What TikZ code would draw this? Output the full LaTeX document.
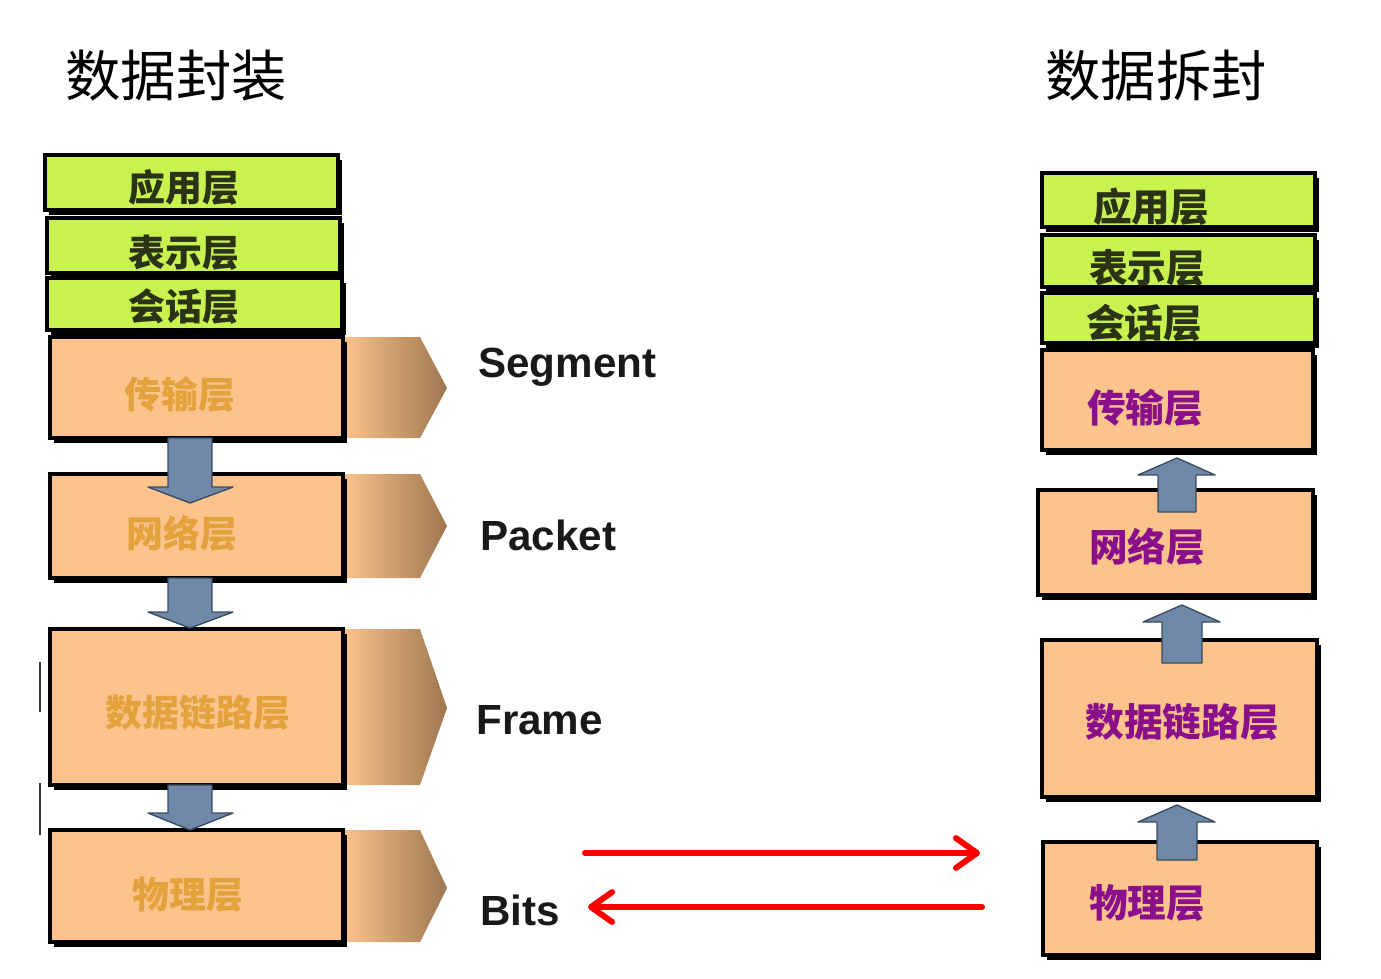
\documentclass[tikz,border=0pt]{standalone}
\usepackage{fontspec}
\setmainfont{Liberation Sans}
\newfontfamily\cjk{Noto Sans CJK SC}
\usetikzlibrary{arrows.meta,positioning,shadows}

\definecolor{lgreen}{HTML}{C8F250}
\definecolor{peach}{HTML}{FCC38D}
\definecolor{tabbrown}{HTML}{9E774F}
\definecolor{arrowblue}{HTML}{6F88A8}
\definecolor{arrowedge}{HTML}{3C4C60}
\definecolor{goldtext}{HTML}{E3A23C}
\definecolor{purpletext}{HTML}{8A0F8A}
\definecolor{olivetext}{HTML}{2B3316}
\def\pxu{0.02cm}

\begin{document}
\begin{tikzpicture}[x=0.02cm,y=-0.02cm,
  layer/.style={draw=black,line width=2pt,
    general shadow={fill=black,shadow xshift=2.5pt,shadow yshift=-3pt}},
  green/.style={layer,fill=lgreen},
  orange/.style={layer,fill=peach},
  tab/.style={left color=peach,middle color=peach!75!tabbrown,right color=tabbrown},
  barrow/.style={fill=arrowblue,draw=arrowedge,line width=0.8pt,line join=round},
  title/.style={font=\cjk\fontsize{31.5}{36}\selectfont,inner sep=0pt},
  lname/.style={font=\cjk\bfseries\fontsize{21}{24}\selectfont,inner sep=0pt},
  rname/.style={font=\cjk\bfseries\fontsize{22}{25}\selectfont,inner sep=0pt},
  unit/.style={font=\bfseries\fontsize{24}{28}\selectfont,text=black!90,inner sep=0pt,anchor=west},
  bitline/.style={red,line width=3.4pt,line cap=round,-{Straight Barb[length=12pt,width=17pt,round]}}]
\useasboundingbox (0,0) rectangle (1381,978);

% titles
\node[title] (enc) at (176,76) {数据封装};
\node[title] (dec) at (1156,76) {数据拆封};

% sender stack
\node[green,minimum width=293*\pxu,minimum height=55*\pxu] (la) at (191.5,182.5) {};
\node[green,minimum width=293*\pxu,minimum height=55*\pxu] (lp) at (193.5,245.5) {};
\node[green,minimum width=295*\pxu,minimum height=52*\pxu] (ls) at (194.5,304) {};
\shade[tab] (343,337) -- (420,337) -- (447,388) -- (420,438) -- (343,438) -- cycle;
\node[orange,minimum width=293*\pxu,minimum height=101*\pxu] (lt) at (196.5,387.5) {};
\shade[tab] (343,474) -- (420,474) -- (447,526) -- (420,578) -- (343,578) -- cycle;
\node[orange,minimum width=293*\pxu,minimum height=104*\pxu] (ln) at (196.5,526) {};
\shade[tab] (343,629) -- (420,629) -- (447,708) -- (420,785) -- (343,785) -- cycle;
\node[orange,minimum width=293*\pxu,minimum height=156*\pxu] (ld) at (196.5,707) {};
\shade[tab] (343,830) -- (420,830) -- (447,888) -- (420,942) -- (343,942) -- cycle;
\node[orange,minimum width=293*\pxu,minimum height=112*\pxu] (lph) at (196.5,886) {};

\node[lname,text=olivetext] at (184,187) {应用层};
\node[lname,text=olivetext] at (184,253) {表示层};
\node[lname,text=olivetext] at (184,307) {会话层};
\node[lname,text=goldtext] at (180,395) {传输层};
\node[lname,text=goldtext] at (182,533) {网络层};
\node[lname,text=goldtext] at (198,713) {数据链路层};
\node[lname,text=goldtext] at (188,895) {物理层};

% downward arrows
\draw[barrow] (168,438) -- (212,438) -- (212,487) -- (233,487) -- (190,503) -- (148,487) -- (168,487) -- cycle;
\draw[barrow] (168,578) -- (212,578) -- (212,612) -- (233,612) -- (190,628) -- (148,612) -- (168,612) -- cycle;
\draw[barrow] (168,785) -- (212,785) -- (212,813) -- (233,813) -- (190,830) -- (148,813) -- (168,813) -- cycle;

\node[unit] (seg) at (478,367) {Segment};
\node[unit] (pkt) at (480,535) {Packet};
\node[unit] (frm) at (476,720) {Frame};
\node[unit] (bits) at (480,910) {Bits};

% receiver stack
\node[green,minimum width=273*\pxu,minimum height=54*\pxu] (ra) at (1178.5,200) {};
\node[green,minimum width=273*\pxu,minimum height=52*\pxu] (rp) at (1178.5,261) {};
\node[green,minimum width=273*\pxu,minimum height=50*\pxu] (rs) at (1178.5,318) {};
\node[orange,minimum width=271*\pxu,minimum height=100*\pxu] (rt) at (1177.5,400) {};
\node[orange,minimum width=275*\pxu,minimum height=105*\pxu] (rn) at (1175.5,542.5) {};
\node[orange,minimum width=275*\pxu,minimum height=157*\pxu] (rd) at (1179.5,718.5) {};
\node[orange,minimum width=274*\pxu,minimum height=113*\pxu] (rph) at (1180,898.5) {};

\node[rname,text=olivetext] at (1151,207) {应用层};
\node[rname,text=olivetext] at (1147,268) {表示层};
\node[rname,text=olivetext] at (1144,323) {会话层};
\node[rname,text=purpletext] at (1145,408) {传输层};
\node[rname,text=purpletext] at (1147,547) {网络层};
\node[rname,text=purpletext] at (1182,722) {数据链路层};
\node[rname,text=purpletext] at (1147,903) {物理层};

% upward arrows
\draw[barrow] (1158,512) -- (1196,512) -- (1196,475) -- (1215,475) -- (1177,458) -- (1138,475) -- (1158,475) -- cycle;
\draw[barrow] (1162,663) -- (1202,663) -- (1202,622) -- (1220,622) -- (1182,605) -- (1143,622) -- (1162,622) -- cycle;
\draw[barrow] (1157,860) -- (1197,860) -- (1197,822) -- (1215,822) -- (1177,805) -- (1138,822) -- (1157,822) -- cycle;

% bit stream
\coordinate (sendA) at (585,853);
\coordinate (sendB) at (980,853);
\coordinate (recvA) at (982,907);
\coordinate (recvB) at (588,907);
\draw[bitline] (sendA) -- (sendB);
\draw[bitline] (recvA) -- (recvB);

\draw[line width=1.2pt,black!80] (40,662) -- (40,712);
\draw[line width=1.2pt,black!80] (40,783) -- (40,835);
\end{tikzpicture}
\end{document}
